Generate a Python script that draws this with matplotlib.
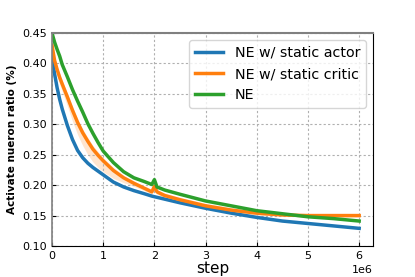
import matplotlib
matplotlib.use("Agg")
import matplotlib.pyplot as plt
import numpy as np

steps = [0.0, 0.05, 0.1, 0.15, 0.2, 0.3, 0.4, 0.5, 0.6, 0.7, 0.8, 0.9, 1.0, 1.2, 1.4, 1.6, 1.8,
         1.95, 2.0, 2.05, 2.2, 2.5, 3.0, 3.5, 4.0, 4.5, 5.0, 5.5, 6.0]

static_actor = [0.41, 0.383, 0.36, 0.341, 0.325, 0.298, 0.275, 0.257, 0.245, 0.236, 0.229, 0.223, 0.217,
                0.205, 0.197, 0.191, 0.186, 0.182, 0.181, 0.180, 0.177, 0.171, 0.162, 0.154, 0.147,
                0.141, 0.137, 0.133, 0.129]

static_critic = [0.43, 0.405, 0.39, 0.377, 0.366, 0.345, 0.323, 0.303, 0.286, 0.272, 0.259, 0.249, 0.24,
                 0.224, 0.212, 0.203, 0.195, 0.189, 0.198, 0.189, 0.183, 0.176, 0.166, 0.159, 0.154,
                 0.151, 0.150, 0.150, 0.150]

ne = [0.45, 0.435, 0.423, 0.412, 0.398, 0.378, 0.357, 0.338, 0.32, 0.301, 0.285, 0.27, 0.256,
      0.237, 0.222, 0.212, 0.206, 0.201, 0.209, 0.197, 0.192, 0.185, 0.174, 0.166, 0.158,
      0.153, 0.148, 0.145, 0.141]

critic_low = [0.425, 0.398, 0.38, 0.366, 0.354, 0.33, 0.305, 0.283, 0.265, 0.25, 0.238, 0.229, 0.222,
              0.211, 0.204, 0.198, 0.191, 0.185, 0.193, 0.185, 0.179, 0.172, 0.163, 0.156, 0.151,
              0.149, 0.148, 0.148, 0.148]
critic_high = [0.436, 0.411, 0.396, 0.383, 0.372, 0.351, 0.329, 0.309, 0.292, 0.278, 0.265, 0.255, 0.245,
               0.229, 0.216, 0.207, 0.199, 0.193, 0.202, 0.193, 0.187, 0.180, 0.170, 0.163, 0.157,
               0.154, 0.153, 0.153, 0.153]

labels = ["NE w/ static actor", "NE w/ static critic", "NE"]
colors = ["#1f77b4", "#ff7f0e", "#2ca02c"]

fig = plt.figure(figsize=(4.15, 2.77), dpi=100)
ax = fig.add_axes([52/415, 1 - 246/277, (373-52)/415, (246-33)/277])

x = np.array(steps) * 1e6
ax.fill_between(x, critic_low, critic_high, color=colors[1], alpha=0.2, lw=0)
ax.plot(x, static_actor, color=colors[0], lw=2.5, label=labels[0])
ax.plot(x, static_critic, color=colors[1], lw=2.5, label=labels[1])
ax.plot(x, ne, color=colors[2], lw=2.5, label=labels[2])

ax.set_xlim(0, 6.27e6)
ax.set_ylim(0.10, 0.45)
ax.set_yticks([0.10, 0.15, 0.20, 0.25, 0.30, 0.35, 0.40, 0.45])
ax.set_xticks([0, 1e6, 2e6, 3e6, 4e6, 5e6, 6e6])
ax.grid(True, linestyle=(0, (2, 2)), color="#b0b0b0", lw=0.8)
ax.tick_params(direction="in", labelsize=8, length=3)
ax.xaxis.get_offset_text().set_fontsize(8)
for s in ["left", "top"]:
    ax.spines[s].set_color("#808080")
ax.spines["top"].set_linewidth(1.5)
ax.spines["left"].set_linewidth(1.2)

ax.set_xlabel("step", fontsize=11, labelpad=0)
ax.set_ylabel("Activate nueron ratio (%)", fontsize=7.5, fontweight="bold")
ax.legend(loc="upper right", fontsize=10.3, handlelength=2.0, borderaxespad=0.5)

fig.savefig("out.png", dpi=100)
